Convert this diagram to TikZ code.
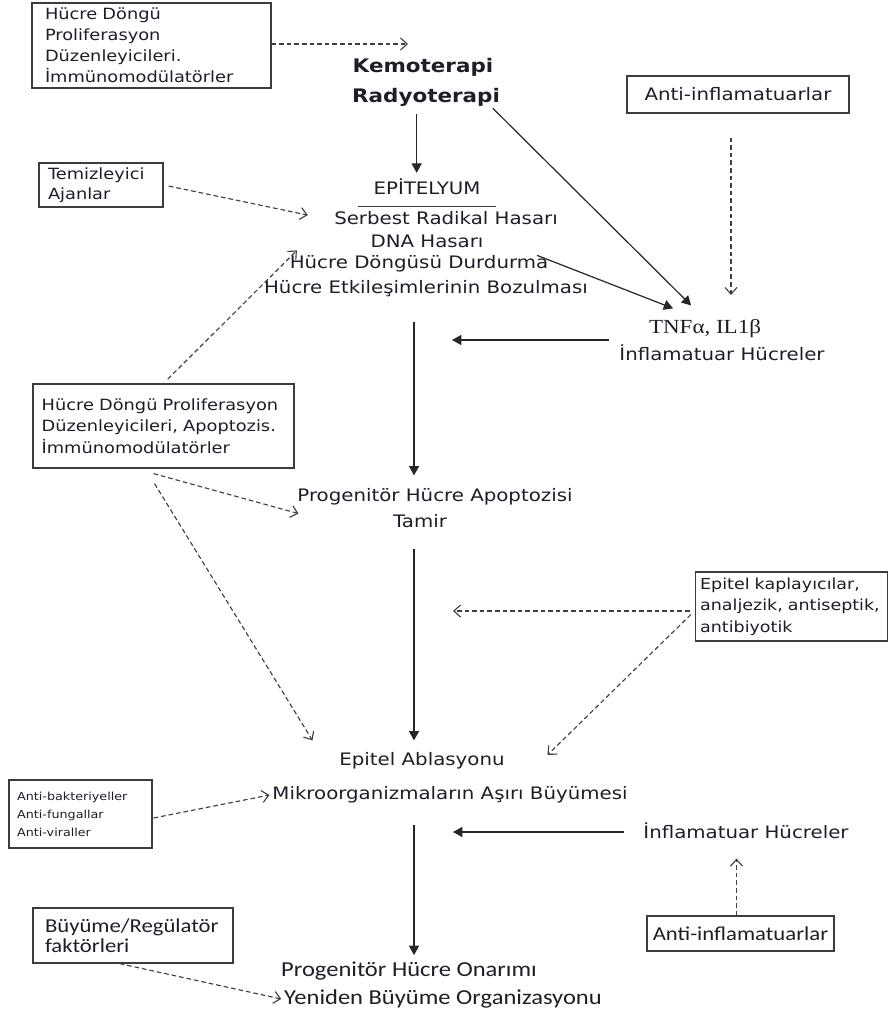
\documentclass[tikz,border=0pt]{standalone}
\usepackage{fontspec}
\setmainfont{DejaVu Sans}[FakeStretch=1.15]
\newfontfamily\calfont{Carlito}[FakeStretch=1.15]
\newfontfamily\timfont{Liberation Serif}[FakeStretch=1.15]
\usepackage{tikz}
\usetikzlibrary{arrows.meta, positioning, calc}
\usepackage{xcolor}
\definecolor{ink}{RGB}{30,30,40}
\definecolor{linegray}{RGB}{60,60,60}

\begin{document}
\begin{tikzpicture}[x=0.75pt, y=-0.75pt,
  every node/.style={text=ink},
  lbl/.style={font=\fontsize{12.9}{15}\selectfont, text height=10pt, text depth=3pt, inner sep=2pt},
  blbl/.style={font=\calfont\fontsize{16}{18}\selectfont, text height=10.5pt, text depth=3pt, inner sep=2pt},
  kutu/.style={draw=linegray, line width=0.9pt, align=left},
  solarr/.style={-{Triangle[length=7pt,width=7.5pt]}, line width=0.9pt, draw=black!85},
  dasharr/.style={-{Straight Barb[length=5pt,width=9pt]}, dash pattern=on 3.5pt off 2.2pt, line width=0.85pt, draw=black!75},
]
  \useasboundingbox (0,0) rectangle (889,1012);
  \fill[white] (0,0) rectangle (889,1012);

  % treatment
  \node[font=\fontsize{14}{17}\bfseries, text height=10.5pt, text depth=3.5pt, inner sep=2pt] (kemo) at (423,68) {Kemoterapi};
  \node[font=\fontsize{14}{17}\bfseries, text height=10.5pt, text depth=3.5pt, inner sep=2pt] (radyo) at (426,98) {Radyoterapi};

  % epithelium
  \node[lbl, inner ysep=5.8pt, minimum width=103.5pt] (epi) at (427,189.5) {EPİTELYUM};
  \draw[linegray, line width=0.8pt] (epi.south west) -- (epi.south east);
  \node[lbl] (srh) at (446,220) {Serbest Radikal Hasarı};
  \node[lbl] (dna) at (427,243) {DNA Hasarı};
  \node[lbl] (hdd) at (419,264) {Hücre Döngüsü Durdurma};
  \node[lbl] (heb) at (426,289) {Hücre Etkileşimlerinin Bozulması};

  % cytokines
  \node[font=\timfont\fontsize{15}{17}\selectfont, text height=10pt, text depth=3pt, inner sep=2pt] (tnf) at (705,329) {TNFα, IL1β};
  \node[lbl] (infl1) at (722,356) {İnflamatuar Hücreler};

  \node[lbl] (pha) at (435,497) {Progenitör Hücre Apoptozisi};
  \node[lbl] (tamir) at (420,523) {Tamir};
  \node[lbl] (eab) at (422,761) {Epitel Ablasyonu};
  \node[lbl] (mab) at (450,795) {Mikroorganizmaların Aşırı Büyümesi};
  \node[lbl] (infl2) at (746,834) {İnflamatuar Hücreler};
  \node[blbl] (pho) at (409,971) {Progenitör Hücre Onarımı};
  \node[blbl] (ybo) at (443,999) {Yeniden Büyüme Organizasyonu};

  % agent boxes
  \node[kutu, font=\fontsize{11.6}{15.75}\selectfont, minimum width=179.25pt, minimum height=63.75pt, inner xsep=9.75pt, text width=159.75pt] (hdpA) at (151.5,45.5)
    {Hücre Döngü\\Proliferasyon\\Düzenleyicileri.\\İmmünomodülatörler};
  \node[kutu, font=\fontsize{11.6}{15}\selectfont, minimum width=93pt, minimum height=28.5pt, inner xsep=6.75pt, text width=79.5pt] (tem) at (101,185)
    {Temizleyici\\Ajanlar};
  \node[kutu, font=\fontsize{11.6}{16}\selectfont, minimum width=195.75pt, minimum height=63pt, inner xsep=6.5pt, text width=182.75pt] (hdpB) at (163.5,426)
    {Hücre Döngü Proliferasyon\\Düzenleyicileri, Apoptozis.\\İmmünomodülatörler};
  \node[kutu, font=\fontsize{12.9}{15}\selectfont, align=center, minimum width=166.5pt, minimum height=27.75pt] (antiA) at (738,94.5)
    {Anti-inflamatuarlar};
  \node[kutu, font=\fontsize{11.4}{16}\selectfont, minimum width=144pt, minimum height=51.75pt, inner xsep=3.5pt, text width=137pt] (epk) at (791.5,606.5)
    {Epitel kaplayıcılar,\\analjezik, antiseptik,\\antibiyotik};
  \node[kutu, font=\fontsize{8.3}{13.5}\selectfont, minimum width=107.25pt, minimum height=51pt, inner xsep=6pt, text width=95pt] (amb) at (80.5,814)
    {Anti-bakteriyeller\\Anti-fungallar\\Anti-viraller};
  \node[kutu, font=\calfont\fontsize{14.8}{15}\selectfont, minimum width=150pt, minimum height=41.25pt, inner xsep=9pt, text width=132pt] (bfk) at (133,935.5)
    {Büyüme/Regülatör\\faktörleri};
  \node[kutu, font=\calfont\fontsize{14.8}{17}\selectfont, align=center, minimum width=140.25pt, minimum height=26.25pt] (antiB) at (740.5,933.5)
    {Anti-inflamatuarlar};

  % free ends
  \coordinate (k1) at (408,44);
  \coordinate (t1) at (731,295);
  \coordinate (m1) at (452,340);
  \coordinate (m2) at (453,611);
  \coordinate (m3) at (453,832);
  \coordinate (axis) at (414,0);

  % main flow
  \draw[solarr, shorten <=3pt] ([xshift=-7pt]radyo.south) -- ([xshift=-7pt]radyo.south |- epi.north);
  \draw[solarr, shorten <=15.75pt, shorten >=7.5pt] (heb.south -| axis) -- (pha.north -| axis);
  \draw[solarr, shorten <=11pt, shorten >=6.75pt] (tamir.south -| axis) -- (eab.north -| axis);
  \draw[solarr, shorten <=14pt, shorten >=3pt] (mab.south -| axis) -- (pho.north -| axis);

  % inflammation
  \draw[solarr] ([shift={(-10,-2)}]radyo.south east) -- ([shift={(45,-12)}]tnf.north west);
  \draw[solarr] ([shift={(-14,3)}]hdd.north east) -- ([shift={(27,-9)}]tnf.north west);
  \draw[solarr, shorten <=6pt] (m1 -| infl1.west) -- (m1);
  \draw[solarr] (m3 -| infl2.west) ++(-17,0) -- (m3);

  % agents
  \draw[dasharr] (hdpA.east |- k1) -- (k1);
  \draw[dasharr, shorten <=18pt] (antiA.south -| t1) -- (t1);
  \draw[dasharr, shorten <=4pt, shorten >=18pt] (tem.east) -- (srh.west);
  \draw[dasharr, shorten <=4.5pt] (hdpB.north) -- ([shift={(10,-2)}]hdd.north west);
  \draw[dasharr] ([shift={(-10,5)}]hdpB.south) -- ([shift={(4,5)}]pha.south west);
  \draw[dasharr] ([shift={(-9,15)}]hdpB.south) -- ([shift={(-24,-9)}]eab.north west);
  \draw[dasharr, shorten <=4pt] (m2 -| epk.west) -- (m2);
  \draw[dasharr] ([shift={(-4,8)}]epk.west) -- ([shift={(40,-6)}]eab.east);
  \draw[dasharr] ([shift={(1,4)}]amb.east) -- (mab.west);
  \draw[dasharr, shorten >=9.75pt] ([xshift=-3pt]antiB.north) -- ([xshift=-3pt]antiB.north |- infl2.south);
  \draw[dasharr] ([xshift=-10pt]bfk.south) -- (ybo.west);
\end{tikzpicture}
\end{document}
